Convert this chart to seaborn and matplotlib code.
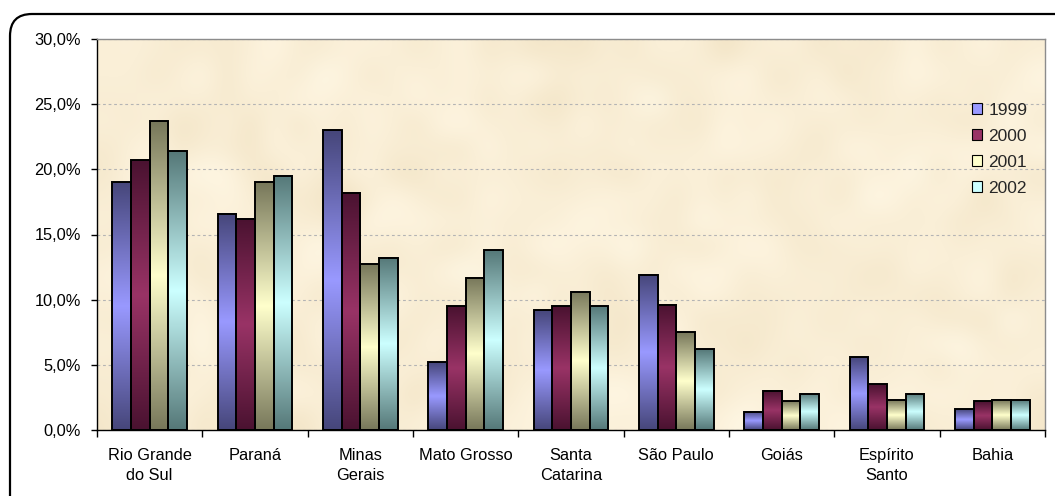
import numpy as np
import pandas as pd
import matplotlib
matplotlib.use("Agg")
import matplotlib.pyplot as plt
import seaborn as sns
from matplotlib.colors import LinearSegmentedColormap
from matplotlib.patches import Patch, FancyBboxPatch
from matplotlib.ticker import FuncFormatter, FixedLocator, NullFormatter
from matplotlib.transforms import IdentityTransform

# Share of each state, by year (percent)
states = ["Rio Grande\ndo Sul", "Paraná", "Minas\nGerais", "Mato Grosso",
          "Santa\nCatarina", "São Paulo", "Goiás", "Espírito\nSanto", "Bahia"]
years = ["1999", "2000", "2001", "2002"]
share_1999 = [19.0, 16.6, 23.0, 5.2, 9.2, 11.9, 1.4, 5.6, 1.6]
share_2000 = [20.7, 16.2, 18.2, 9.5, 9.5, 9.6, 3.0, 3.5, 2.2]
share_2001 = [23.7, 19.0, 12.7, 11.7, 10.6, 7.5, 2.2, 2.3, 2.3]
share_2002 = [21.4, 19.5, 13.2, 13.8, 9.5, 6.2, 2.8, 2.8, 2.3]
y_ticks = [0, 5, 10, 15, 20, 25, 30]

series = {"1999": share_1999, "2000": share_2000, "2001": share_2001, "2002": share_2002}
df = pd.DataFrame(
    [(s, yr, v) for yr in years for s, v in zip(states, series[yr])],
    columns=["state", "year", "share"],
)

light = {"1999": "#9999FF", "2000": "#993366", "2001": "#FFFFCC", "2002": "#CCFFFF"}
dark = {"1999": "#46467A", "2000": "#4A1230", "2001": "#77775A", "2002": "#557878"}

sns.set_style("white")
plt.rcParams["font.family"] = ["Liberation Sans", "DejaVu Sans"]

W, H = 1055, 496
fig = plt.figure(figsize=(W / 100, H / 100), dpi=100)
fig.patch.set_facecolor("white")
ax = fig.add_axes([97 / W, 66 / H, 948 / W, 391 / H])

sns.barplot(data=df, x="state", y="share", hue="year", hue_order=years, order=states,
            palette=[light[y] for y in years], width=0.71, edgecolor="black",
            linewidth=1.4, saturation=1, legend=False, ax=ax, zorder=3)

# Vertical dark-light-dark shading inside every bar
grad = np.linspace(0, 1, 256).reshape(-1, 1)
for yr, cont in zip(years, ax.containers):
    cmap = LinearSegmentedColormap.from_list("g" + yr, [dark[yr], light[yr], dark[yr]])
    for bar in cont:
        x, y0 = bar.get_x(), bar.get_y()
        w, h = bar.get_width(), bar.get_height()
        ax.imshow(grad, cmap=cmap, aspect="auto", origin="lower",
                  extent=[x, x + w, y0, y0 + h], zorder=2.5, interpolation="bilinear")
        bar.set_facecolor("none")
        bar.set_zorder(3)

# Parchment-like plot background
rng = np.random.default_rng(7)
noise = rng.normal(size=(16, 40))
base = np.array([250, 239, 215]) / 255.0
amp = np.array([3.5, 5, 8]) / 255.0
tex = np.clip(base[None, None, :] + noise[:, :, None] * amp[None, None, :], 0, 1)
ax.imshow(tex, extent=[-0.5, 8.5, 0, 30], aspect="auto", zorder=0, interpolation="bicubic")

ax.set_xlim(-0.5, 8.5)
ax.set_ylim(0, 30)

# Dashed horizontal gridlines
ax.set_axisbelow(True)
ax.yaxis.grid(True, color="#b4b4b4", linestyle=(0, (2.5, 2.5)), linewidth=0.8, zorder=1)
ax.xaxis.grid(False)
for gl in ax.get_ygridlines():
    gl.set_zorder(1)

# Axis ticks: boundaries marked, names centred
FS = 11.8
ax.xaxis.set_major_locator(FixedLocator(np.arange(-0.5, 9, 1)))
ax.xaxis.set_major_formatter(NullFormatter())
ax.xaxis.set_minor_locator(FixedLocator(np.arange(len(states))))
ax.set_xticklabels(states, minor=True)
ax.tick_params(axis="x", which="major", direction="out", length=5, width=1, color="black", bottom=True)
ax.tick_params(axis="x", which="minor", length=0, pad=13, labelsize=FS, labelcolor="black", bottom=True)
for t in ax.get_xticklabels(minor=True):
    t.set_linespacing(1.38)

ax.yaxis.set_major_locator(FixedLocator(y_ticks))
ax.yaxis.set_major_formatter(FuncFormatter(lambda v, p: f"{v:.1f}%".replace(".", ",")))
ax.tick_params(axis="y", direction="out", length=4, width=1, color="black", pad=7.5,
               labelsize=FS, labelcolor="black", left=True)

ax.set_xlabel("")
ax.set_ylabel("")

for side in ["left", "bottom"]:
    ax.spines[side].set_color("black")
    ax.spines[side].set_linewidth(1.0)
for side in ["top", "right"]:
    ax.spines[side].set_visible(True)
    ax.spines[side].set_color("#8c8c8c")
    ax.spines[side].set_linewidth(1.0)

# Legend
handles = [Patch(facecolor=light[y], edgecolor="black", linewidth=0.8) for y in years]
fig.legend(handles, years, loc="upper left", bbox_to_anchor=(972 / W, 1 - 103 / H),
           frameon=False, handlelength=0.58, handleheight=0.58, handletextpad=0.35,
           labelspacing=0.63, fontsize=12.5, borderpad=0, borderaxespad=0)

# Rounded chart-area border
frame = FancyBboxPatch((10, -40), 1100, 522, boxstyle="round,pad=0,rounding_size=22",
                       transform=IdentityTransform(), facecolor="none",
                       edgecolor="black", linewidth=1.6, clip_on=False)
fig.add_artist(frame)

fig.savefig("out.png", dpi=100)
